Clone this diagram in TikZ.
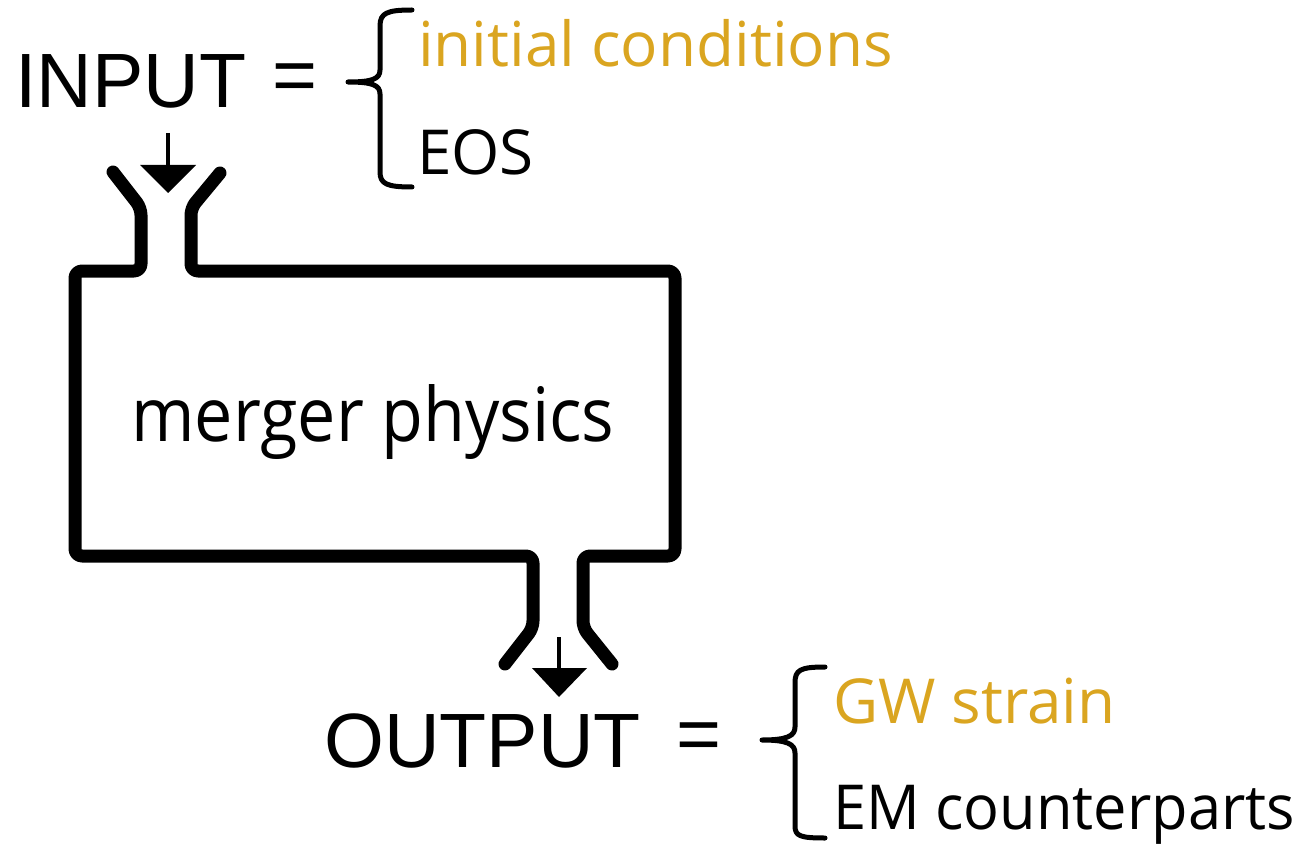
\documentclass[tikz,border=0pt]{standalone}
\usepackage{fontspec}
\setmainfont{Open Sans}
\newfontfamily\helv{Liberation Sans}
\newfontfamily\narrowos[FakeStretch=0.96]{Open Sans}
\newfontfamily\mergerfont[FakeStretch=0.91]{Open Sans}
\definecolor{gold}{RGB}{218,165,32}
\begin{document}
\begin{tikzpicture}[x=1pt,y=-1pt,
  big/.style={font=\helv\fontsize{77}{80}\selectfont, inner sep=0pt},
  item/.style={font=\fontsize{62}{66}\selectfont, inner sep=0pt, anchor=base west},
  wall/.style={line width=13pt, line cap=round, line join=round, rounded corners=7pt},
  brace/.style={line width=5pt, line cap=round, line join=round},
  shaft/.style={line width=4pt},
  head/.style={fill=black}]
\useasboundingbox (0,0) rectangle (1314,845);

% texts
\node[big, anchor=base west] (input) at (15,108) {INPUT};
\node[big, anchor=center] (ineq) at (295,83) {=};
\node[item, text=gold] (ic) at (418,67) {initial conditions};
\node[item] (eos) at (417,175) {EOS};
\node[font=\mergerfont\fontsize{75}{78}\selectfont, inner sep=0pt, anchor=base] (mp) at (373,441) {merger physics};
\node[big, anchor=base west] (output) at (324,767) {OUTPUT};
\node[big, anchor=center] (outeq) at (699,742) {=};
\node[item, text=gold] (gw) at (833,723) {GW strain};
\node[item, font=\narrowos\fontsize{62}{66}\selectfont] (em) at (833,829) {EM counterparts};

% braces
\draw[brace] (412,10) .. controls (387,10) and (380,13) .. (380,26) -- (380,70)
  .. controls (380,79) and (372,82) .. (348,82)
  .. controls (372,82) and (380,85) .. (380,94) -- (380,172)
  .. controls (380,184) and (387,187) .. (412,187);
\draw[brace] (825,667) .. controls (800,667) and (795,670) .. (795,683) -- (795,727)
  .. controls (795,736) and (787,740) .. (762,740)
  .. controls (787,740) and (795,744) .. (795,753) -- (795,826)
  .. controls (795,836) and (800,838) .. (825,838);

% funnel box
\draw[wall] (113,172) -- (141,208) -- (141,271) -- (75,271) -- (75,556) -- (533,556) -- (533,628) -- (505,664);
\draw[wall] (220,173) -- (191,208) -- (191,271) -- (675,271) -- (675,556) -- (583,556) -- (583,628) -- (612,664);

% arrows
\coordinate (a1s) at (168,133);
\coordinate (a1e) at (168,167);
\draw[shaft] (a1s) -- (a1e);
\fill[head] (140,165) -- (196,165) -- (168,193) -- cycle;
\coordinate (a2s) at (559,637);
\coordinate (a2e) at (559,670);
\draw[shaft] (a2s) -- (a2e);
\fill[head] (532,668) -- (587,668) -- (559,697) -- cycle;
\end{tikzpicture}
\end{document}
